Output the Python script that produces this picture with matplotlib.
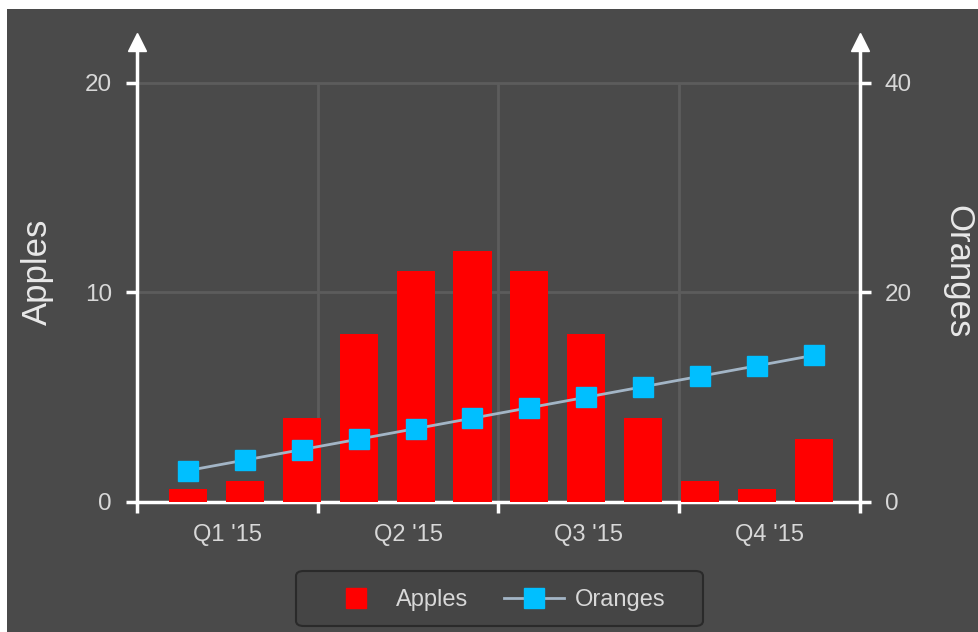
import matplotlib.pyplot as plt
import matplotlib.patches as mpatches
from matplotlib.lines import Line2D
import numpy as np

# data
quarters = ["Q1 '15", "Q2 '15", "Q3 '15", "Q4 '15"]
apples = [0.6, 1, 4, 8, 11, 12, 11, 8, 4, 1, 0.6, 3]
oranges = [3, 4, 5, 6, 7, 8, 9, 10, 11, 12, 13, 14]

bg = '#4a4a4a'
txt = '#d8d8d8'
plt.rcParams['font.family'] = ['Liberation Sans', 'DejaVu Sans']

W, H = 979, 632
fig = plt.figure(figsize=(W / 100, H / 100), dpi=100)
fig.patch.set_facecolor('white')
fig.patches.append(mpatches.Rectangle((7 / W, 0), 1, 1 - 9 / H, transform=fig.transFigure,
                                      facecolor=bg, edgecolor='none', zorder=-10))

ax = fig.add_axes([137 / W, 1 - 502 / H, 723 / W, 460 / H])
ax.set_facecolor(bg)
ax2 = ax.twinx()

x = np.arange(len(apples))
ax.bar(x, apples, width=0.67, color='#ff0000', zorder=3)
ax2.plot(x, oranges, color='#a3b5c6', lw=2, marker='s', ms=14, mfc='#00bfff', mec='#00bfff',
         zorder=4)

xl = (-0.896, 11.81)
ax.set_xlim(xl)
step = (xl[1] - xl[0]) / 4
bounds = [xl[0] + step * k for k in range(5)]
ax.set_xticks(bounds)
ax.set_xticklabels([])
ax.set_xticks([xl[0] + step * (k + 0.5) for k in range(4)], minor=True)
ax.set_xticklabels(quarters, minor=True)
ax.tick_params(axis='x', which='minor', length=0, pad=16, labelsize=17, labelcolor=txt)
ax.tick_params(axis='x', which='major', length=8, width=2.5, color='white', direction='out')

top = 21.95
ax.set_ylim(0, top)
ax2.set_ylim(0, 2 * top)
ax.set_yticks([0, 10, 20])
ax2.set_yticks([0, 20, 40])
ax.tick_params(axis='y', length=8, width=2.5, color='white', pad=10, labelsize=17.5, labelcolor=txt)
ax2.tick_params(axis='y', length=8, width=2.5, color='white', pad=10, labelsize=17.5, labelcolor=txt)

# grid only inside the 0..20 band
ax.grid(True, axis='y', color='#5c5c5c', lw=2, zorder=0)
ax.vlines(bounds[1:-1], 0, 20, color='#5c5c5c', lw=2, zorder=0)
ax.set_axisbelow(True)

for a in (ax, ax2):
    for s in a.spines.values():
        s.set_visible(False)
ax.spines['left'].set_visible(True)
ax.spines['bottom'].set_visible(True)
ax2.spines['right'].set_visible(True)
for s in (ax.spines['left'], ax.spines['bottom'], ax2.spines['right']):
    s.set_color('white')
    s.set_linewidth(2.5)

# arrow heads on the value axes
ax.plot([0], [1], marker='^', ms=13, color='white', transform=ax.transAxes, clip_on=False, zorder=6)
ax.plot([1], [1], marker='^', ms=13, color='white', transform=ax.transAxes, clip_on=False, zorder=6)

ax.set_ylabel('Apples', fontsize=25, color='#e8e8e8')
ax.yaxis.set_label_coords(-0.115, 0.5)
ax2.set_ylabel('Oranges', fontsize=25, color='#e8e8e8', rotation=270, va='center')
ax2.yaxis.set_label_coords(1.135, 0.5)

# legend box drawn by hand (wider side padding than matplotlib gives)
fig.patches.append(mpatches.FancyBboxPatch((296 / W, 1 - 626 / H), 407 / W, 55 / H,
                                           boxstyle='round,pad=0,rounding_size=0.008',
                                           transform=fig.transFigure, facecolor='#454545',
                                           edgecolor='#2a2a2a', lw=1.5, zorder=-5))
handles = [Line2D([], [], ls='none', marker='s', ms=14, mfc='#ff0000', mec='#ff0000'),
           Line2D([], [], color='#a3b5c6', lw=2, marker='s', ms=14, mfc='#00bfff', mec='#00bfff')]
leg = fig.legend(handles, ['Apples', 'Oranges'], loc='center',
                 bbox_to_anchor=(495.5 / W, 1 - 600 / H), ncol=2,
                 fontsize=17, labelcolor=txt, frameon=False, columnspacing=1.5,
                 handlelength=2.55, handletextpad=0.45, borderaxespad=0)

fig.savefig('out.png', dpi=100, facecolor=fig.get_facecolor())
